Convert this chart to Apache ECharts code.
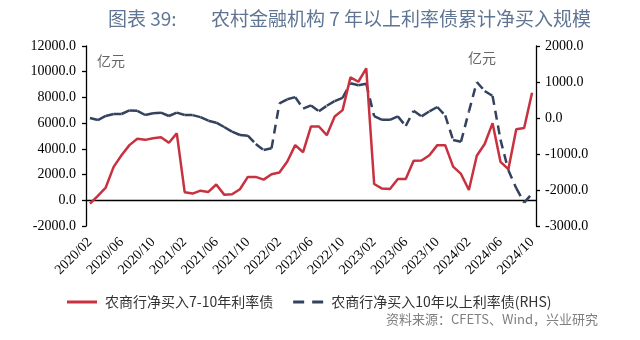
<!DOCTYPE html>
<html><head><meta charset="utf-8">
<script src="https://cdn.jsdelivr.net/npm/echarts@6/dist/echarts.min.js"></script>
<style>html,body{margin:0;padding:0;background:#fff}#c{width:640px;height:340px}</style>
</head><body><div id="c"></div>
<script>
const months = ['2020/02','2020/03','2020/04','2020/05','2020/06','2020/07','2020/08','2020/09','2020/10','2020/11','2020/12',
'2021/01','2021/02','2021/03','2021/04','2021/05','2021/06','2021/07','2021/08','2021/09','2021/10','2021/11','2021/12',
'2022/01','2022/02','2022/03','2022/04','2022/05','2022/06','2022/07','2022/08','2022/09','2022/10','2022/11','2022/12',
'2023/01','2023/02','2023/03','2023/04','2023/05','2023/06','2023/07','2023/08','2023/09','2023/10','2023/11','2023/12',
'2024/01','2024/02','2024/03','2024/04','2024/05','2024/06','2024/07','2024/08','2024/09','2024/10'];
const red = [-260,350,990,2600,3500,4290,4780,4700,4830,4910,4470,5200,630,520,750,650,1230,440,470,860,1820,1820,1610,2020,2160,3020,4290,3740,5740,5740,5066,6520,7014,9560,9220,10260,1270,910,880,1660,1660,3080,3100,3500,4290,4290,2620,2050,800,3460,4380,6000,2990,2420,5520,5620,8366];
const blue = [0,-56,56,111,111,210,200,83,130,148,56,148,83,80,25,-74,-130,-250,-380,-472,-490,-722,-889,-843,407,519,580,260,350,185,340,470,560,963,910,950,50,-50,-50,45,-222,200,45,185,305,70,-611,-657,180,1000,750,611,-600,-1450,-1950,-2350,-2100];
const leftTicks = {min:-2000, max:12000, interval:2000};
const rightTicks = {min:-3000, max:2000, interval:1000};
const redName = '农商行净买入7-10年利率债';
const blueName = '农商行净买入10年以上利率债(RHS)';
const RED = '#c8313f', BLUE = '#33425e';

const chart = echarts.init(document.getElementById('c'));
const series = [{name: redName, type:'line', data: red, xAxisIndex:0, yAxisIndex:0, symbol:'none',
  lineStyle:{color:RED, width:2.5}, itemStyle:{color:RED}, z:3}];
for (let i = 0; i < blue.length - 1; i++) {
  const d = blue.map((v, j) => (j === i || j === i + 1) ? v : null);
  series.push({name: blueName, type:'line', xAxisIndex:0, yAxisIndex:1, data:d, symbol:'none',
    lineStyle:{color:BLUE, width:2.5, type:[9,6], cap:'butt'}, itemStyle:{color:BLUE}, z:2});
}
const SERIF = 'Liberation Serif';
const axisFont = {fontFamily:SERIF, fontSize:14, color:'#000'};
chart.setOption({
  animation:false,
  backgroundColor:'#fff',
  grid:{left:86, right:104, top:46, bottom:114, containLabel:false},
  legend:{data:[
      {name:redName, icon:'rect'},
      {name:blueName, icon:'path://M0,0H11V3H0Z M19,0H30V3H19Z'}
    ], left:62, top:290, itemWidth:30, itemHeight:3, itemGap:20,
    textStyle:{fontFamily:'Noto Sans CJK SC', fontSize:14, color:'#333', padding:[0,0,0,3]}},
  xAxis:[
    {type:'category', data:months, boundaryGap:true,
     axisLine:{onZero:true, onZeroAxisIndex:0, lineStyle:{color:'#000', width:1.3}},
     axisTick:{interval:3, length:5, lineStyle:{color:'#000', width:1.3}},
     axisLabel:{show:false}, splitLine:{show:false}},
    {type:'category', data:months, boundaryGap:true, position:'bottom',
     axisLine:{show:false}, axisTick:{show:false}, splitLine:{show:false},
     axisLabel:Object.assign({interval:3, rotate:45, margin:14}, axisFont)}
  ],
  yAxis:[
    Object.assign({type:'value', position:'left', splitLine:{show:false},
     axisLine:{show:true, lineStyle:{color:'#000', width:1.3}},
     axisTick:{show:true, length:4, lineStyle:{color:'#000', width:1.3}},
     axisLabel:Object.assign({margin:10, formatter:v=>v.toFixed(1)}, axisFont)}, leftTicks),
    Object.assign({type:'value', position:'right', splitLine:{show:false},
     axisLine:{show:true, lineStyle:{color:'#000', width:1.3}},
     axisTick:{show:true, length:4, lineStyle:{color:'#000', width:1.3}},
     axisLabel:Object.assign({margin:9, formatter:v=>v.toFixed(1)}, axisFont)}, rightTicks)
  ],
  graphic:[
    {type:'text', left:108, top:9, style:{text:'图表 39:', fontFamily:'Noto Sans CJK SC', fontSize:19, fill:'#5f7593'}},
    {type:'text', left:211, top:9, style:{text:'农村金融机构 7 年以上利率债累计净买入规模', fontFamily:'Noto Sans CJK SC', fontSize:19, fill:'#5f7593'}},
    {type:'text', left:97, top:54, style:{text:'亿元', fontFamily:'Noto Sans CJK SC', fontSize:14, fill:'#666'}},
    {type:'text', left:468, top:51, style:{text:'亿元', fontFamily:'Noto Sans CJK SC', fontSize:14, fill:'#666'}},
    {type:'text', right:42, top:313, style:{text:'资料来源：CFETS、Wind，兴业研究', fontFamily:'Noto Sans CJK SC', fontSize:13, fill:'#7f7f7f'}}
  ],
  series: series
});
</script></body></html>
